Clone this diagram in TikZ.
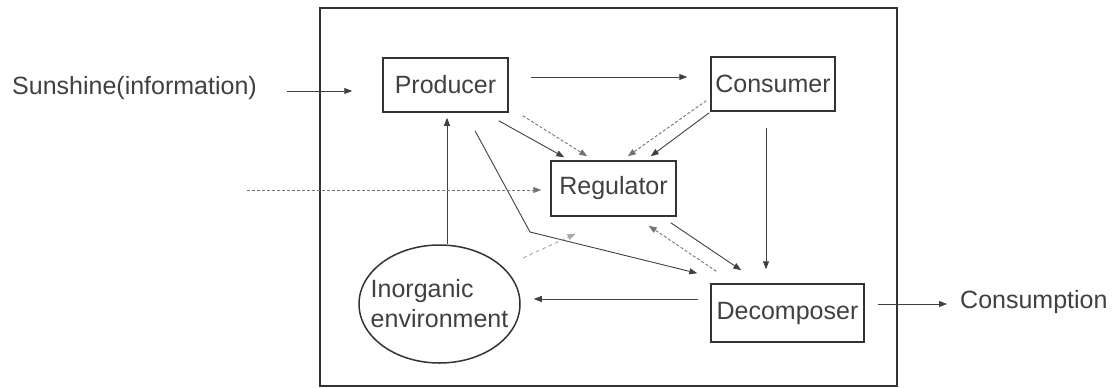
\documentclass[tikz,border=0pt]{standalone}
\usepackage{fontspec}
\setmainfont{Liberation Sans}
\usetikzlibrary{arrows.meta,shapes.geometric,calc}
\begin{document}
\begin{tikzpicture}[x=1pt,y=-1pt,
  every node/.style={font=\fontsize{25}{30}\selectfont, text=black!75},
  boxnode/.style={draw=black!80, line width=1.5pt, inner sep=0pt},
  arr/.style={draw=black!75, line width=0.9pt, -{Triangle[length=8pt,width=6pt]}},
  darr/.style={draw=black!55, line width=0.9pt, dash pattern=on 3pt off 2pt, -{Triangle[length=8pt,width=6pt]}},
  ldarr/.style={draw=black!35, line width=0.9pt, dash pattern=on 4pt off 3pt, -{Triangle[length=8pt,width=6pt]}}]
\useasboundingbox (0,0) rectangle (1116,388);
\draw[draw=black!80, line width=1.5pt] (320,8) rectangle (897,386);
\node[boxnode, minimum width=125pt, minimum height=54pt] (producer) at (445.5,85) {Producer};
\node[boxnode, minimum width=124pt, minimum height=54pt] (consumer) at (773,84) {Consumer};
\node[boxnode, minimum width=125pt, minimum height=55pt] (regulator) at (613.5,188.5) {Regulator};
\node[boxnode, minimum width=153pt, minimum height=58pt] (decomposer) at (787.5,313) {Decomposer};
\node[ellipse, draw=black!80, line width=1.5pt, minimum width=161pt, minimum height=118pt, inner xsep=-16pt, inner ysep=0pt, align=left] (inorg) at (439.5,304) {Inorganic\\environment};
\node[anchor=east, inner sep=0pt] (sun) at (257,88) {Sunshine(information)};
\node[anchor=west, inner sep=0pt] (consumption) at (960,302) {Consumption};
\coordinate (bend) at (530,232);
\coordinate (dstart) at (247,190);
\coordinate (gstart) at (523,258);
% arrows
\draw[arr] ($(sun.east)+(30,3)$) -- ($(sun.east -| producer.west)+(-30,3)$);
\draw[arr] ($(producer.east)+(22,-8)$) -- ($(consumer.west)+(-23,-7)$);
\draw[arr] ($(producer.south east)+(-10,8)$) -- ($(regulator.north west)+(14,-3)$);
\draw[darr] ($(producer.south east)+(14,3)$) -- ($(regulator.north west)+(37,-4)$);
\draw[darr] ($(consumer.south west)+(-4,-11)$) -- ($(regulator.north east)+(-49,-4)$);
\draw[arr] ($(consumer.south west)+(-1,1)$) -- ($(regulator.north east)+(-26,-4)$);
\draw[arr] ($(producer.south)+(29.5,18)$) -- (bend) -- ($(decomposer.north west)+(-13,-10)$);
\draw[ldarr] (gstart) -- ($(regulator.south)+(-38,17)$);
\draw[darr] ($(decomposer.north west)+(6,-12)$) -- ($(regulator.south east)+(-28,9)$);
\draw[arr] ($(regulator.south east)+(-6,6)$) -- ($(decomposer.north west)+(31,-13)$);
\draw[arr] ($(consumer.south)+(-7,16)$) -- ($(decomposer.north)+(-21.5,-14)$);
\draw[arr] ($(decomposer.west)+(-12,-14)$) -- ($(inorg.east)+(13,-5)$);
\draw[arr] ($(inorg.north)+(7.5,0)$) -- ($(producer.south)+(1.5,5)$);
\draw[arr] ($(decomposer.east)+(13,-9)$) -- ($(consumption.west)+(-13,2)$);
\draw[darr] (dstart) -- ($(regulator.west)+(-9,1.5)$);
\end{tikzpicture}
\end{document}
